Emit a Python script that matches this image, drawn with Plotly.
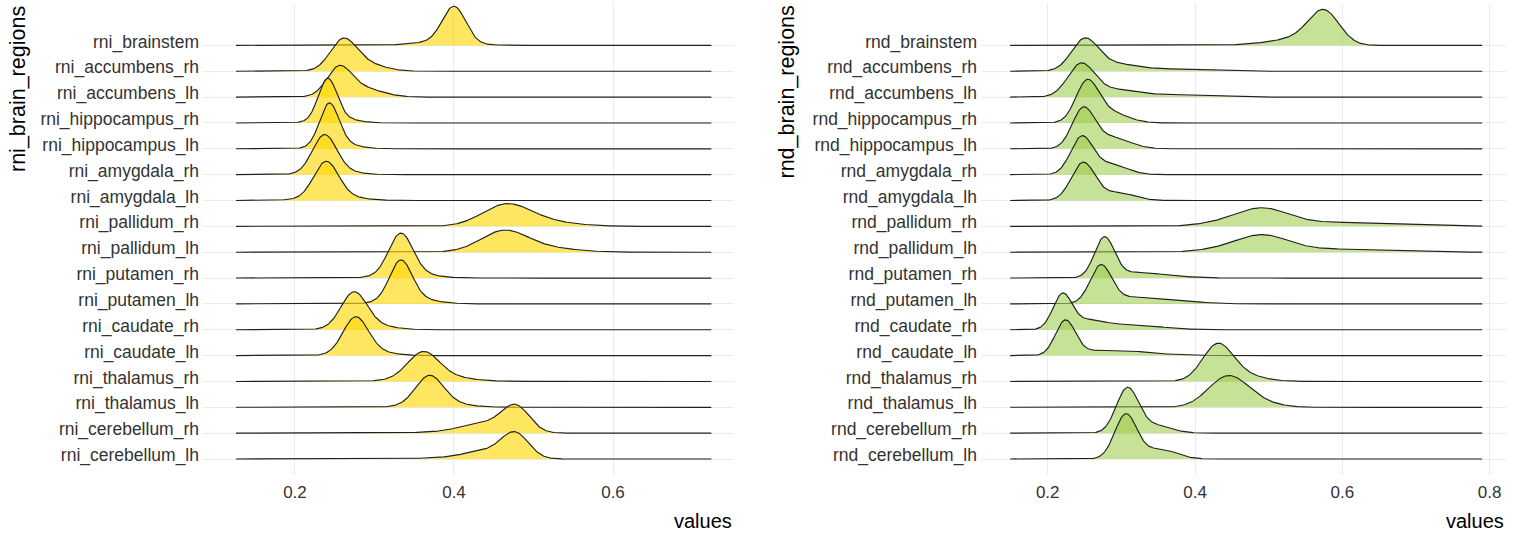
import numpy as np
import plotly.graph_objects as go

# ---------------- data ----------------
# regions listed from top row to bottom row
rni_regions = ["rni_brainstem", "rni_accumbens_rh", "rni_accumbens_lh",
               "rni_hippocampus_rh", "rni_hippocampus_lh", "rni_amygdala_rh",
               "rni_amygdala_lh", "rni_pallidum_rh", "rni_pallidum_lh",
               "rni_putamen_rh", "rni_putamen_lh", "rni_caudate_rh",
               "rni_caudate_lh", "rni_thalamus_rh", "rni_thalamus_lh",
               "rni_cerebellum_rh", "rni_cerebellum_lh"]
rnd_regions = [r.replace("rni_", "rnd_") for r in rni_regions]

# density shape of each ridge: (centre, spread, height in row units) components
rni_components = [
    [(0.400, 0.0145, 1.38), (0.385, 0.032, 0.15)],
    [(0.260, 0.016, 1.04), (0.282, 0.025, 0.35)],
    [(0.255, 0.015, 0.98), (0.280, 0.026, 0.38)],
    [(0.241, 0.0115, 1.55), (0.252, 0.022, 0.20)],
    [(0.243, 0.012, 1.60), (0.255, 0.022, 0.20)],
    [(0.237, 0.015, 1.42), (0.250, 0.025, 0.15)],
    [(0.239, 0.0155, 1.38), (0.255, 0.028, 0.15), (0.200, 0.030, 0.02)],
    [(0.465, 0.030, 0.78), (0.510, 0.040, 0.18)],
    [(0.462, 0.029, 0.77), (0.510, 0.040, 0.17)],
    [(0.333, 0.015, 1.55), (0.342, 0.028, 0.20)],
    [(0.333, 0.014, 1.50), (0.345, 0.028, 0.22)],
    [(0.274, 0.016, 1.30), (0.290, 0.028, 0.20)],
    [(0.276, 0.0155, 1.33), (0.290, 0.026, 0.20)],
    [(0.361, 0.019, 0.93), (0.375, 0.035, 0.25)],
    [(0.369, 0.017, 1.05), (0.380, 0.030, 0.20)],
    [(0.478, 0.017, 0.94), (0.440, 0.030, 0.38), (0.380, 0.040, 0.03)],
    [(0.477, 0.017, 0.93), (0.440, 0.028, 0.30), (0.380, 0.040, 0.03)],
]
rnd_components = [
    [(0.575, 0.021, 1.31), (0.535, 0.028, 0.22), (0.490, 0.030, 0.05)],
    [(0.250, 0.018, 1.17), (0.290, 0.030, 0.28), (0.370, 0.040, 0.08)],
    [(0.245, 0.018, 1.23), (0.290, 0.030, 0.28), (0.370, 0.040, 0.09)],
    [(0.253, 0.015, 1.43), (0.280, 0.025, 0.45)],
    [(0.248, 0.015, 1.47), (0.285, 0.025, 0.45)],
    [(0.246, 0.015, 1.42), (0.285, 0.022, 0.40)],
    [(0.248, 0.016, 1.45), (0.295, 0.022, 0.30)],
    [(0.490, 0.035, 0.64), (0.590, 0.080, 0.15), (0.430, 0.030, 0.08)],
    [(0.490, 0.035, 0.62), (0.580, 0.070, 0.12), (0.430, 0.030, 0.07)],
    [(0.277, 0.0135, 1.53), (0.320, 0.030, 0.20), (0.370, 0.030, 0.05)],
    [(0.272, 0.0145, 1.42), (0.310, 0.030, 0.22), (0.360, 0.030, 0.12), (0.410, 0.025, 0.03)],
    [(0.220, 0.013, 1.34), (0.255, 0.020, 0.30), (0.310, 0.040, 0.20)],
    [(0.224, 0.0135, 1.35), (0.260, 0.020, 0.15), (0.305, 0.025, 0.17), (0.355, 0.030, 0.05)],
    [(0.430, 0.020, 1.25), (0.455, 0.030, 0.32)],
    [(0.443, 0.026, 1.08), (0.475, 0.030, 0.25)],
    [(0.308, 0.015, 1.70), (0.345, 0.022, 0.30)],
    [(0.306, 0.015, 1.71), (0.352, 0.022, 0.38)],
]
rni_value_range = [0.1258, 0.7237]
rnd_value_range = [0.149, 0.790]
rni_tick_values = [0.2, 0.4, 0.6]
rnd_tick_values = [0.2, 0.4, 0.6, 0.8]
rni_tick_labels = ["0.2", "0.4", "0.6"]
rnd_tick_labels = ["0.2", "0.4", "0.6", "0.8"]

# ---------------- style ----------------
FONT = "Liberation Sans, Arial, sans-serif"
W, H = 1523, 539
LINE = "#202020"
GRID = "#EBEBEB"
TXT = "#333333"


def ridge(comps, grid):
    d = np.zeros_like(grid)
    for mu, sd, amp in comps:
        d += amp * np.exp(-0.5 * ((grid - mu) / sd) ** 2)
    return d


fig = go.Figure()
panels = [
    (rni_regions, rni_components, rni_value_range, "x", "y", "rgba(255,215,0,0.62)"),
    (rnd_regions, rnd_components, rnd_value_range, "x2", "y2", "rgba(154,204,70,0.57)"),
]
n = len(rni_regions)
for regions, comps_all, vr, xa, ya, fillc in panels:
    grid = np.linspace(vr[0], vr[1], 600)
    for i, (name, comps) in enumerate(zip(regions, comps_all)):
        base = n - i
        top = base + ridge(comps, grid)
        fig.add_trace(go.Scatter(
            x=np.concatenate([grid, grid[::-1]]),
            y=np.concatenate([top, np.full_like(grid, base)]),
            fill="toself", fillcolor=fillc, line=dict(width=0),
            mode="lines", hoverinfo="skip", showlegend=False,
            xaxis=xa, yaxis=ya))
        fig.add_trace(go.Scatter(
            x=grid, y=top, mode="lines", line=dict(color=LINE, width=1.15),
            name=name, showlegend=False, xaxis=xa, yaxis=ya))

ydom = [1 - 475 / H, 1 - 3 / H]
yrange = [0.381, 18.64]
positions = [n - i for i in range(n)]


def xaxis_cfg(dom, rng, tv, tt, anchor):
    return dict(domain=dom, range=rng, tickvals=tv, ticktext=tt, anchor=anchor,
                showgrid=True, gridcolor=GRID, gridwidth=1, zeroline=False,
                showline=False, ticks="", ticklabelstandoff=5,
                tickfont=dict(family=FONT, size=17, color=TXT))


def yaxis_cfg(anchor, labels):
    return dict(domain=ydom, range=yrange, anchor=anchor, tickvals=positions,
                ticktext=labels, showgrid=True, gridcolor=GRID, gridwidth=1,
                zeroline=False, showline=False, ticks="", ticklabelshift=-4,
                ticklabelstandoff=3,
                tickfont=dict(family=FONT, size=17.5, color=TXT))


L0, L1 = 203 / W, 734 / W
R0, R1 = 981 / W, 1506 / W
fig.update_layout(
    width=W, height=H, margin=dict(l=0, r=0, t=0, b=0),
    paper_bgcolor="white", plot_bgcolor="white", showlegend=False,
    xaxis=xaxis_cfg([L0, L1], [0.0843, 0.7522], rni_tick_values, rni_tick_labels, "y"),
    xaxis2=xaxis_cfg([R0, R1], [0.1094, 0.8223], rnd_tick_values, rnd_tick_labels, "y2"),
    yaxis=yaxis_cfg("x", rni_regions),
    yaxis2=yaxis_cfg("x2", rnd_regions),
)

ann = []
for xr in (L1, R1):
    ann.append(dict(text="values", x=xr, y=1 - 521 / H, xref="paper", yref="paper",
                    xanchor="right", yanchor="middle", showarrow=False,
                    font=dict(family=FONT, size=20, color="black")))
for xc, t in ((18 / W, "rni_brain_regions"), (786 / W, "rnd_brain_regions")):
    ann.append(dict(text=t, x=xc, y=1 - 4 / H, xref="paper", yref="paper",
                    xanchor="center", yanchor="top", textangle=-90, showarrow=False,
                    font=dict(family=FONT, size=21.5, color="black")))
fig.update_layout(annotations=ann)

fig.write_html("out.html")
